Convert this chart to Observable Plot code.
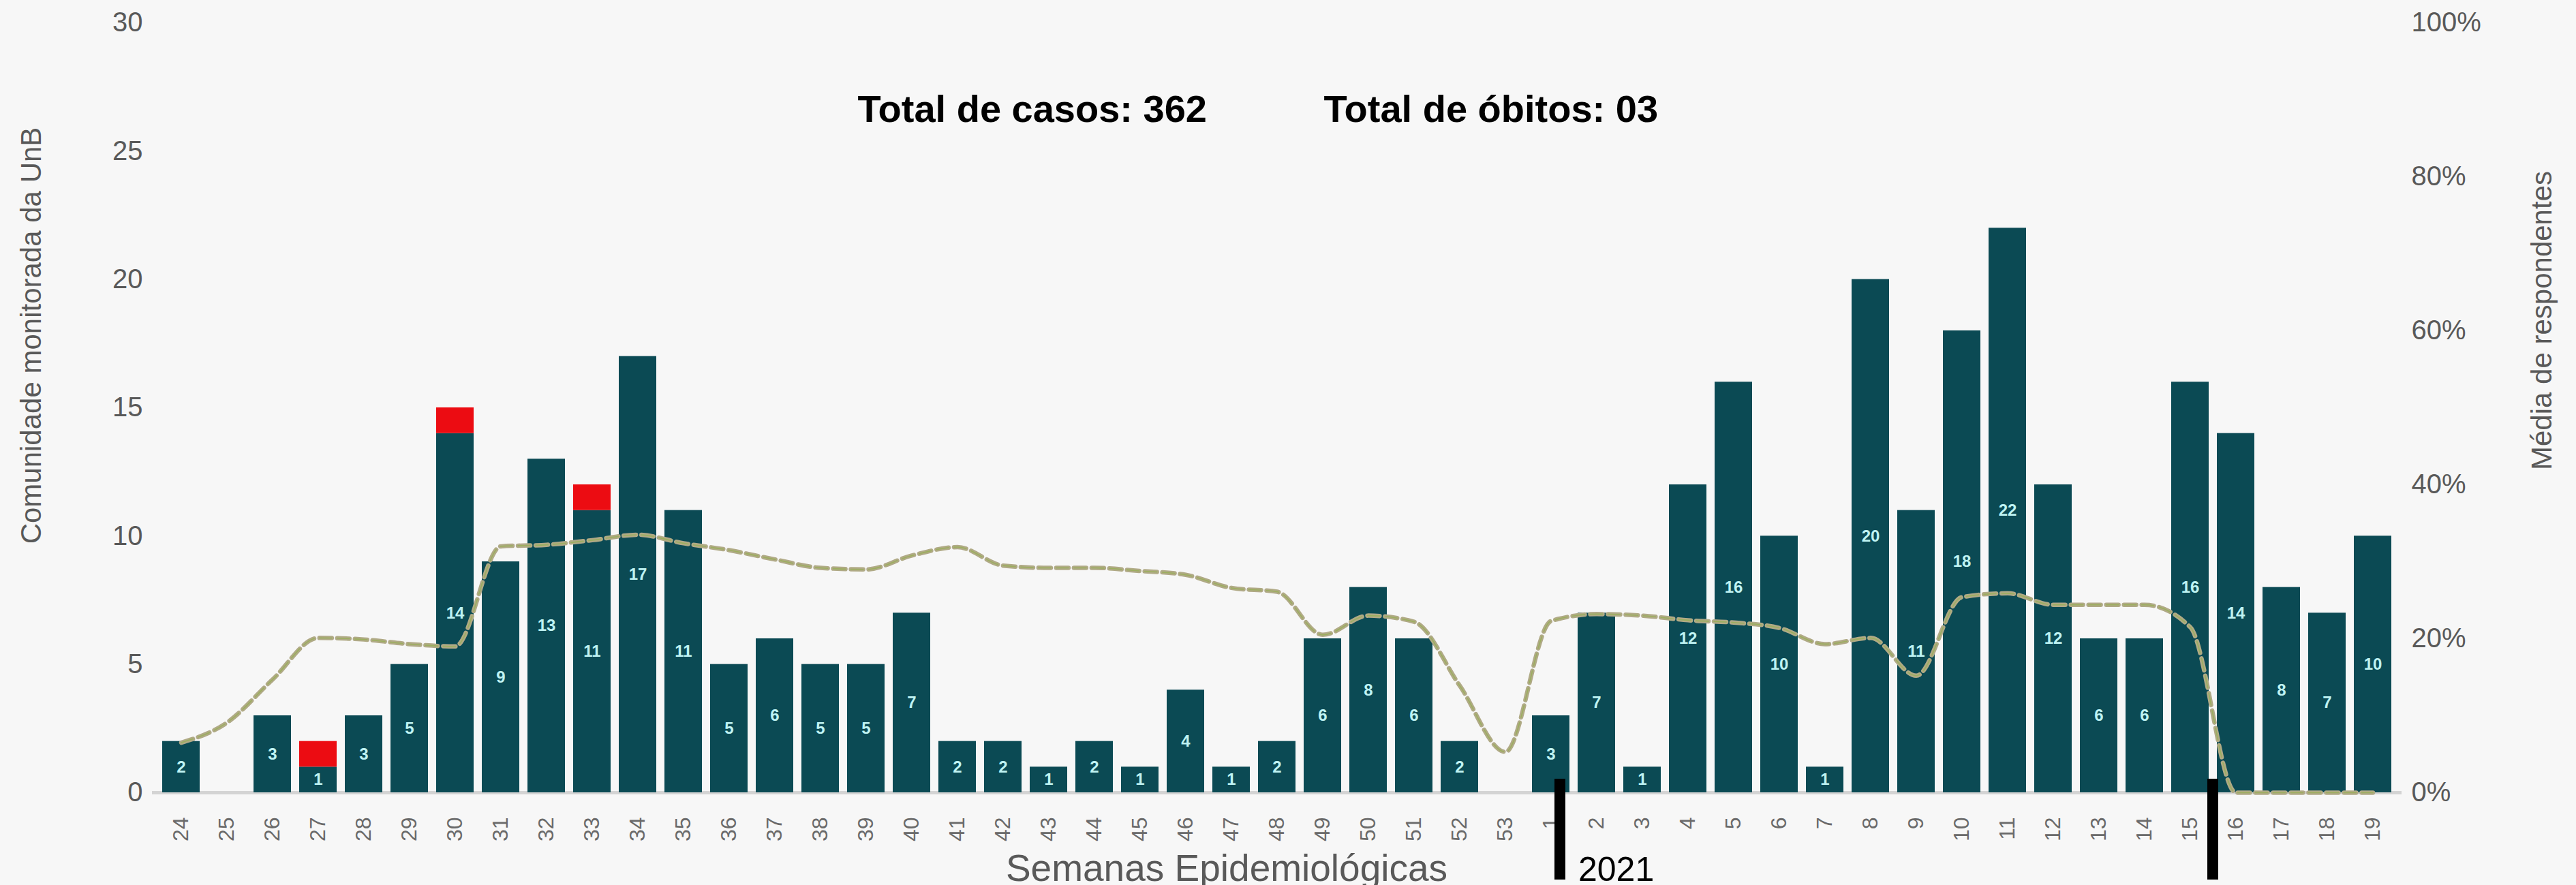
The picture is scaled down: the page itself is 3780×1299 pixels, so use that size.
<!DOCTYPE html>
<html>
<head>
<meta charset="utf-8">
<script src="https://cdn.jsdelivr.net/npm/d3@7"></script>
<script src="https://cdn.jsdelivr.net/npm/@observablehq/plot@0.6"></script>
<style>
  html, body { margin: 0; padding: 0; background: #f7f7f7; }
  #chart svg { display: block; background: linear-gradient(to right, #ffffff 38px, #f7f7f7 38px); }
</style>
</head>
<body>
<div id="chart"></div>
<script>
// ---- Data ----
const weeks = ["24","25","26","27","28","29","30","31","32","33","34","35","36","37","38","39","40","41","42","43","44","45","46","47","48","49","50","51","52","53",
               "1","2","3","4","5","6","7","8","9","10","11","12","13","14","15","16","17","18","19"];
const cases = [2,0,3,1,3,5,14,9,13,11,17,11,5,6,5,5,7,2,2,1,2,1,4,1,2,6,8,6,2,0,
               3,7,1,12,16,10,1,20,11,18,22,12,6,6,16,14,8,7,10];
const deaths = [0,0,0,1,0,0,1,0,0,1,0,0,0,0,0,0,0,0,0,0,0,0,0,0,0,0,0,0,0,0,
                0,0,0,0,0,0,0,0,0,0,0,0,0,0,0,0,0,0,0];
const respondentPct = [6.5,9.1,14.7,20.1,19.9,19.3,19.0,32.0,32.2,32.8,33.5,32.4,31.5,30.3,29.2,29.0,30.8,31.9,29.5,29.2,29.2,28.8,28.3,26.6,26.1,20.5,23.0,22.2,13.9,5.3,
                       22.3,23.2,23.0,22.4,22.1,21.4,19.3,20.1,15.2,25.4,25.9,24.4,24.4,24.4,21.5,0,0,0,0];
const countTicks = [0,5,10,15,20,25,30];
const pctTicks = [0,20,40,60,80,100];
const countMax = 30;
const leftTitle = "Comunidade monitorada da UnB";
const rightTitle = "Média de respondentes";
const xTitle = "Semanas Epidemiológicas";
const totalCases = "Total de casos: 362";
const totalDeaths = "Total de óbitos: 03";
const yearLabel = "2021";
const yearWeek = "1";
const cutWeek = "16";

// ---- Table built from arrays ----
const table = weeks.map((w, i) => ({week: w, cases: cases[i], deaths: deaths[i], pct: respondentPct[i]}));
const pctToCount = p => p * countMax / 100;

const font = "'Liberation Sans', Arial, sans-serif";
const W = 3780, H = 1299;
const mL = 223, mR = 256, mT = 33, mB = 136;

const chart = Plot.plot({
  width: W,
  height: H,
  marginLeft: mL,
  marginRight: mR,
  marginTop: mT,
  marginBottom: mB,
  style: {fontFamily: font, color: "#595959", background: "transparent", overflow: "visible"},
  x: {type: "band", domain: weeks, paddingInner: 0.18, paddingOuter: 0.09, axis: null},
  y: {domain: [0, countMax], axis: null},
  marks: [
    // baseline
    Plot.ruleY([0], {stroke: "#d4d4d4", strokeWidth: 5}),
    // bars: cases
    Plot.barY(table, {x: "week", y1: 0, y2: "cases", fill: "#0b4a54"}),
    // bars: deaths stacked on top
    Plot.barY(table.filter(d => d.deaths > 0), {x: "week", y1: "cases", y2: d => d.cases + d.deaths, fill: "#ec0c12"}),
    // value labels inside bars
    Plot.text(table.filter(d => d.cases > 0), {
      x: "week", y: d => d.cases / 2, text: d => String(d.cases),
      fill: "#bff3f3", fontSize: 24, fontWeight: "bold"
    }),
    // respondent line (right axis, percent)
    Plot.line(table, {
      x: "week", y: d => pctToCount(d.pct), stroke: "#b0aa86", strokeWidth: 6.5,
      strokeDasharray: "18,8", curve: "monotone-x"
    }),
    Plot.line(table, {
      x: "week", y: d => pctToCount(d.pct), stroke: "#8cb23e", strokeWidth: 1.6,
      strokeOpacity: 0.55, strokeDasharray: "18,8", curve: "monotone-x"
    }),
    // left axis
    Plot.axisY(countTicks, {
      anchor: "left", tickSize: 0, tickPadding: 14, fontSize: 40, label: null, fill: "#595959"
    }),
    // right axis in percent
    Plot.axisY(pctTicks.map(pctToCount), {
      anchor: "right", tickSize: 0, tickPadding: 14, fontSize: 40, label: null, fill: "#595959",
      tickFormat: d => Math.round(d / countMax * 100) + "%"
    }),
    // x axis
    Plot.axisX({
      anchor: "bottom", tickSize: 0, tickPadding: 36, tickRotate: -90, fontSize: 32, label: null, fill: "#6a6a6a"
    }),
    // axis titles
    Plot.text([leftTitle], {
      frameAnchor: "left", textAnchor: "middle", rotate: -90, dx: -177, dy: -106, fontSize: 42, fill: "#595959"
    }),
    Plot.text([rightTitle], {
      frameAnchor: "right", textAnchor: "middle", rotate: -90, dx: 206, dy: -128, fontSize: 42, fill: "#595959"
    }),
    Plot.text([xTitle], {
      frameAnchor: "bottom", dx: -74, dy: 112, fontSize: 55, fill: "#595959", lineAnchor: "middle"
    }),
    // totals
    Plot.text([totalCases], {
      frameAnchor: "top-left", dx: 1035, dy: 128, fontSize: 56, fontWeight: "bold", fill: "#000000",
      textAnchor: "start", lineAnchor: "middle"
    }),
    Plot.text([totalDeaths], {
      frameAnchor: "top-left", dx: 1719, dy: 128, fontSize: 56, fontWeight: "bold", fill: "#000000",
      textAnchor: "start", lineAnchor: "middle"
    }),
    // year markers
    Plot.ruleX([yearWeek], {x: d => d, stroke: "#000000", strokeWidth: 16, dx: 13, insetTop: 1110, insetBottom: -128}),
    Plot.ruleX([cutWeek], {x: d => d, stroke: "#000000", strokeWidth: 16, dx: -34, insetTop: 1110, insetBottom: -128}),
    Plot.text([yearWeek], {
      x: d => d, frameAnchor: "bottom", text: () => yearLabel, dx: 40, dy: 113,
      fontSize: 50, fill: "#000000", textAnchor: "start", lineAnchor: "middle"
    })
  ]
});

document.getElementById("chart").appendChild(chart);
</script>
</body>
</html>
